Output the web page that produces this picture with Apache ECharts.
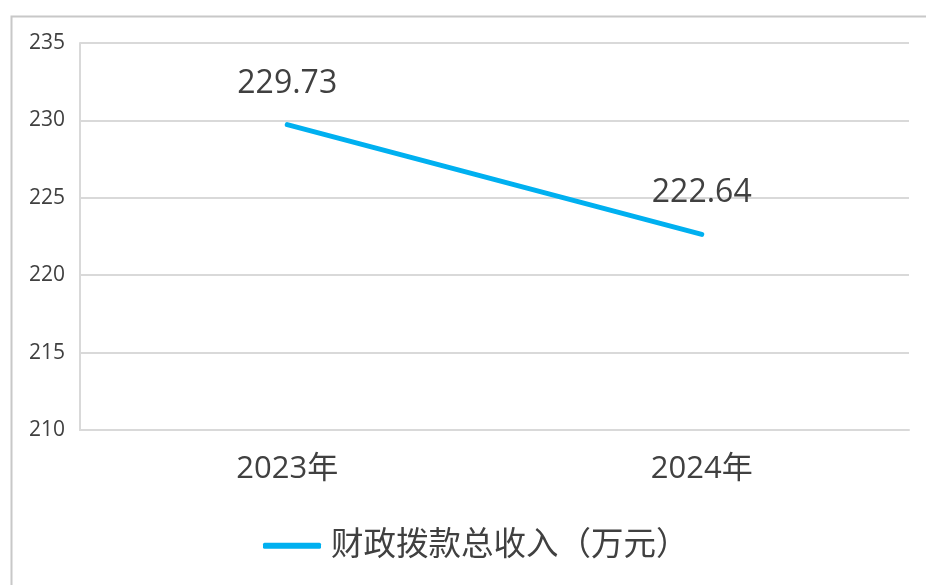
<!DOCTYPE html>
<html>
<head>
<meta charset="utf-8">
<script src="https://cdn.jsdelivr.net/npm/echarts@6/dist/echarts.min.js"></script>
<style>
html,body{margin:0;padding:0;background:#fff;}
#c{width:926px;height:585px;}
</style>
</head>
<body>
<div id="c"></div>
<script>
const categories = ['2023年', '2024年'];
const seriesName = '财政拨款总收入（万元）';
const values = [229.73, 222.64];
const yMin = 210, yMax = 235, yStep = 5;

const chart = echarts.init(document.getElementById('c'));
const font = '"Open Sans", "Noto Sans CJK SC", sans-serif';
chart.setOption({
  animation: false,
  textStyle: { fontFamily: font },
  graphic: [{
    type: 'rect', left: 9, top: 14, z: -10,
    shape: { width: 1000, height: 1000 },
    style: { fill: 'none', stroke: '#c8c8c8', lineWidth: 2 }
  }],
  grid: { left: 80, right: 17, top: 43, bottom: 155 },
  legend: {
    data: [seriesName],
    bottom: 18,
    left: 258,
    itemWidth: 58,
    itemHeight: 6,
    itemGap: 10,
    icon: 'roundRect',
    textStyle: { fontSize: 32.5, color: '#404040', fontFamily: font, padding: [0, 0, 0, 5] }
  },
  xAxis: {
    type: 'category',
    data: categories,
    boundaryGap: true,
    axisLine: { show: true, lineStyle: { color: '#d9d9d9', width: 2 } },
    axisTick: { show: false },
    axisLabel: { fontSize: 31, color: '#404040', margin: 24, fontFamily: font }
  },
  yAxis: {
    type: 'value',
    min: yMin, max: yMax, interval: yStep,
    axisLine: { show: true, lineStyle: { color: '#d9d9d9', width: 2 } },
    axisTick: { show: false },
    splitLine: { show: true, lineStyle: { color: '#d9d9d9', width: 2 } },
    axisLabel: { fontSize: 21, color: '#404040', margin: 15, fontFamily: font }
  },
  series: [{
    name: seriesName,
    type: 'line',
    data: values,
    symbol: 'circle',
    symbolSize: 2,
    showSymbol: true,
    lineStyle: { color: '#00b0f0', width: 5, cap: 'round' },
    itemStyle: { color: '#00b0f0' },
    label: {
      show: true, position: 'top', distance: 24,
      fontSize: 32, color: '#404040', fontFamily: font,
      formatter: p => p.value.toFixed(2)
    }
  }]
});
</script>
</body>
</html>
